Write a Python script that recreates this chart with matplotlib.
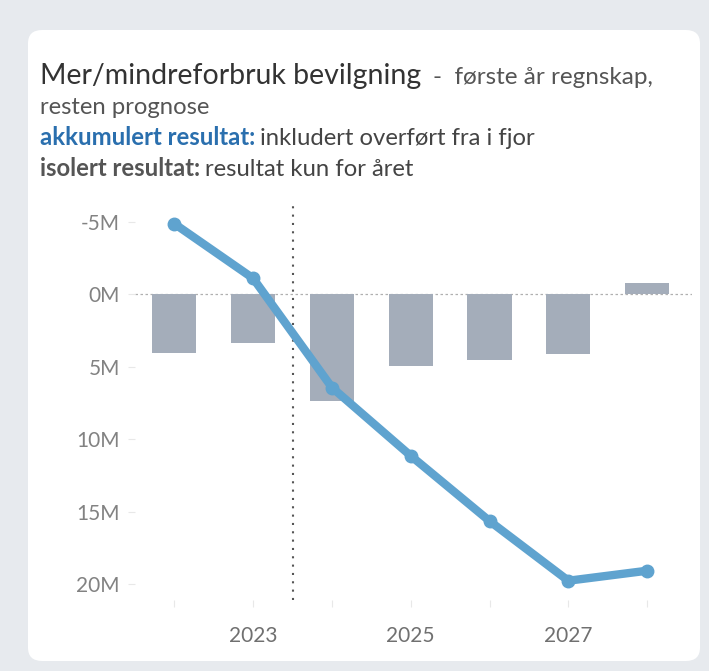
import matplotlib
matplotlib.use("Agg")
import matplotlib.pyplot as plt
from matplotlib.patches import FancyBboxPatch

years = [2022, 2023, 2024, 2025, 2026, 2027, 2028]
isolert = [4.03, 3.36, 7.36, 4.98, 4.54, 4.12, -0.76]      # millions (positive = down)
akkumulert = [-4.86, -1.09, 6.44, 11.15, 15.65, 19.77, 19.08]
ytick_vals = [-5, 0, 5, 10, 15, 20]
ytick_labels = ["-5M", "0M", "5M", "10M", "15M", "20M"]
xtick_labels = {2023: "2023", 2025: "2025", 2027: "2027"}

plt.rcParams['font.family'] = ['Lato', 'DejaVu Sans']

W, H = 709, 671
fig = plt.figure(figsize=(W / 100, H / 100), dpi=100)
fig.patch.set_facecolor('#e7eaee')

card = FancyBboxPatch((28 / W, 10 / H), 672 / W, 631 / H,
                      boxstyle="round,pad=0,rounding_size=0.02",
                      transform=fig.transFigure, facecolor='white',
                      edgecolor='none', zorder=-10)
fig.patches.append(card)

ax = fig.add_axes([135 / W, 1 - 600 / H, 557 / W, 400 / H])
ax.set_zorder(1)
ax.set_facecolor('none')

ax.bar(years, isolert, width=0.56, color='#a4adba', zorder=2)
ax.plot(years, akkumulert, color='#5fa3cf', lw=6, marker='o', ms=9,
        solid_capstyle='round', solid_joinstyle='round', zorder=3)
ax.axhline(0, color='#b0b0b0', lw=0.9, ls=(0, (2, 2)), zorder=1)
ax.axvline(2023.5, color='#555555', lw=1.5, ls=(0, (1, 3)), zorder=1)

ax.set_xlim(2021.5, 2028.57)
ax.set_ylim(21.1, -6.5)
ax.set_yticks(ytick_vals)
ax.set_yticklabels(ytick_labels)
ax.set_xticks(years)
ax.set_xticklabels([xtick_labels.get(y, "") for y in years])
for s in ax.spines.values():
    s.set_visible(False)
ax.tick_params(axis='y', length=5, color='#e8e8e8', labelsize=15,
               labelcolor='#828282', pad=6)
ax.tick_params(axis='x', length=5, color='#e8e8e8', labelsize=15,
               labelcolor='#707070', pad=14, direction='out')

# title block
fig.canvas.draw()
r = fig.canvas.get_renderer()

def put(x, y, s, **kw):
    t = fig.text(x / W, 1 - y / H, s, va='baseline', ha='left', **kw)
    bb = t.get_window_extent(renderer=r)
    return x + bb.width

x = put(40, 84, "Mer/mindreforbruk bevilgning", fontsize=20.5, color='#333333')
put(x + 12, 84, "-  første år regnskap,", fontsize=17.5, color='#555555')
put(40, 114, "resten prognose", fontsize=17.2, color='#555555')
x = put(40, 145, "akkumulert resultat:", fontsize=17.2, color='#2a6fae', fontweight='bold')
put(x + 5, 145, "inkludert overført fra i fjor", fontsize=17.2, color='#444444')
x = put(40, 176, "isolert resultat:", fontsize=17.2, color='#555555', fontweight='bold')
put(x + 5, 176, "resultat kun for året", fontsize=17.2, color='#444444')

fig.savefig("out.png", dpi=100, facecolor=fig.get_facecolor())
